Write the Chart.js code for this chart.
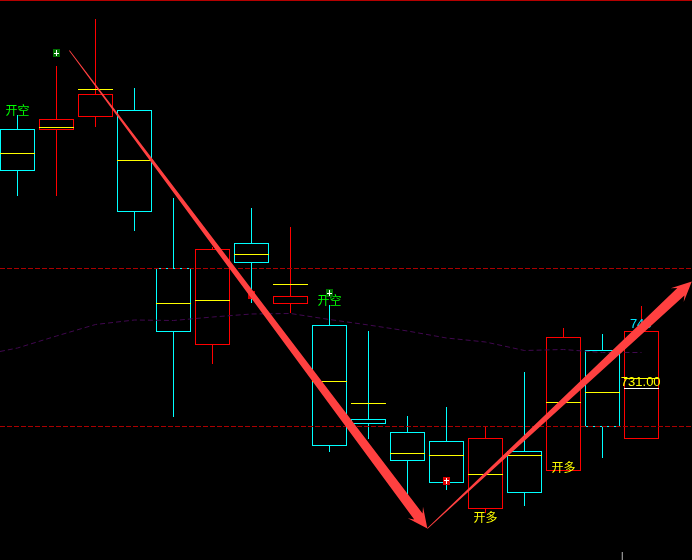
<!DOCTYPE html>
<html>
<head>
<meta charset="utf-8">
<title>K线</title>
<style>
html, body { margin: 0; padding: 0; background: #000; }
canvas { display: block; }
</style>
<script src="https://cdn.jsdelivr.net/npm/chart.js@4"></script>
</head>
<body>
<canvas id="chart" width="692" height="560"></canvas>
<script>
// candles, one entry per bar
const bodyHigh = [782.8, 784.8, 789.8, 786.6, 755.0, 758.8, 760.0, 749.4, 743.6, 724.8, 722.2, 720.4, 721.0, 718.4, 741.2, 738.6, 742.4];
const bodyLow  = [774.4, 782.6, 785.2, 766.2, 742.2, 739.6, 756.0, 747.8, 719.4, 723.8, 716.4, 712.0, 706.8, 710.0, 714.4, 723.2, 720.8];
const wickHigh = [785.6, 795.4, 804.8, 791.0, 769.0, 759.2, 767.0, 763.2, 747.6, 742.4, 725.4, 727.2, 723.4, 734.2, 743.0, 741.8, 747.4];
const wickLow  = [769.4, 769.4, 783.2, 762.4, 725.2, 735.8, 748.0, 746.0, 718.2, 720.8, 709.2, 710.6, 706.0, 707.4, 714.4, 717.0, 720.8];
const midPrice = [777.9, 783.1, 790.7, 776.5, 747.9, 748.5, 757.7, 751.7, 732.3, 727.9, 717.9, 717.5, 713.7, 717.5, 728.1, 730.1, 732.9];
const candleKinds = ["c", "r", "r", "c", "c", "r", "c", "r", "c", "c", "c", "c", "r", "c", "r", "c", "r"];

// slow average, starts just off the first bar
const maX = [-0.45, 0, 1, 2, 3, 4, 5, 6, 7, 8, 9, 10, 11, 12, 13, 14, 15, 16];
const maY = [738.3, 739.0, 741.4, 743.7, 744.6, 744.5, 745.2, 745.8, 745.9, 744.7, 743.6, 742.4, 741.0, 740.2, 738.5, 738.7, 738.1, 738.1];

const levelPrices = [754.9, 723.3];
const topPrice = 808.5;
const lastPrice = 730.9;
const lastIndex = 16;
const cursorX = 15.51;
const cursorY = [698.2, 696.6];

const markerX = [1, 8, 11, 6];
const markerY = [798.0, 750.0, 712.4, 749.6];
const markerKinds = ["down", "down", "up", "up"];

const labelTexts = ["开空", "开空", "开多", "开多", "743", "731.00"];
const labelX = [0, 8, 12, 14, 15.98, 15.98];
const labelY = [786.6, 748.6, 705.2, 715.1, 743.7, 732.2];
const labelColors = ["#00ff00", "#00ff00", "#ffff00", "#ffff00", "#00e5ff", "#ffff00"];

const arrowX = [1.33, 10.51, 17.29];
const arrowY = [798.5, 702.9, 752.3];

const xMin = -17.5 / 39;
const xMax = (692 - 17.5) / 39;
const yMin = 696.6;
const yMax = 808.6;

const CYAN = "#00ffff";
const RED = "#ff0000";
const YELLOW = "#ffff00";
const colors = candleKinds.map((k) => (k === "c" ? CYAN : RED));

function makeMarker(kind) {
    const c = document.createElement("canvas");
    c.width = 7;
    c.height = 8;
    const g = c.getContext("2d");
    g.fillStyle = kind === "up" ? "#dd0000" : "#006e00";
    g.fillRect(0, 0, 7, 8);
    g.fillStyle = "#ffffff";
    g.fillRect(3, 1, 1, 6);
    g.fillRect(1, kind === "up" ? 3 : 4, 5, 1);
    return c;
}

function drawArrow(ctx, x0, y0, x1, y1) {
    const len = Math.hypot(x1 - x0, y1 - y0);
    const dx = (x1 - x0) / len;
    const dy = (y1 - y0) / len;
    const nx = -dy;
    const ny = dx;
    const pt = (along, side) => [x0 + dx * along + nx * side, y0 + dy * along + ny * side];
    const shape = [
        pt(0, 0.4), pt(len - 15, 5.2), pt(len - 20, 9.5), pt(len, 0),
        pt(len - 20, -9.5), pt(len - 15, -5.2), pt(0, -0.4)
    ];
    ctx.beginPath();
    shape.forEach((p, i) => (i ? ctx.lineTo(p[0], p[1]) : ctx.moveTo(p[0], p[1])));
    ctx.closePath();
    ctx.fill();
}

// text goes under the markers, arrows over everything
const overlayPlugin = {
    id: "overlay",
    beforeDatasetDraw(chart, args) {
        if (chart.data.datasets[args.index].label !== "markers") return;
        const ctx = chart.ctx;
        ctx.save();
        ctx.textAlign = "center";
        ctx.textBaseline = "middle";
        labelTexts.forEach((t, i) => {
            ctx.font = /^[0-9.]+$/.test(t) ? '13px "Liberation Sans"' : '12px "Noto Sans CJK SC"';
            ctx.fillStyle = labelColors[i];
            ctx.fillText(t, chart.scales.x.getPixelForValue(labelX[i]), chart.scales.y.getPixelForValue(labelY[i]));
        });
        ctx.restore();
    },
    afterDatasetsDraw(chart) {
        const ctx = chart.ctx;
        const px = arrowX.map((v) => chart.scales.x.getPixelForValue(v));
        const py = arrowY.map((v) => chart.scales.y.getPixelForValue(v));
        ctx.save();
        ctx.fillStyle = "#ff4040";
        drawArrow(ctx, px[0], py[0], px[1], py[1]);
        drawArrow(ctx, px[1], py[1], px[2], py[2]);
        ctx.restore();
    }
};

function hLine(price, color, dash, order) {
    return {
        type: "line",
        label: "level",
        data: [{ x: xMin, y: price }, { x: xMax, y: price }],
        borderColor: color,
        borderWidth: 1,
        borderDash: dash,
        pointRadius: 0,
        order: order
    };
}

const barBase = { grouped: false, borderSkipped: false, inflateAmount: 0 };

const chart = new Chart(document.getElementById("chart"), {
    data: {
        datasets: [
            {
                ...barBase,
                type: "bar",
                label: "wick",
                data: wickHigh.map((h, i) => ({ x: i, y: [wickLow[i], h] })),
                backgroundColor: colors,
                borderWidth: 0,
                barThickness: 1,
                order: 10
            },
            {
                ...barBase,
                type: "bar",
                label: "body",
                data: bodyHigh.map((h, i) => ({ x: i, y: [bodyLow[i], h] })),
                backgroundColor: "#000000",
                borderColor: colors,
                borderWidth: 1,
                barThickness: 35,
                order: 9
            },
            hLine(levelPrices[0], "#aa0000", [5, 2], 8),
            hLine(levelPrices[1], "#aa0000", [5, 2], 8),
            hLine(topPrice, "#b40000", [], 8),
            {
                type: "line",
                label: "ma",
                data: maX.map((x, i) => ({ x: x, y: maY[i] })),
                borderColor: "#40084f",
                borderWidth: 1,
                borderDash: [5, 3],
                pointRadius: 0,
                tension: 0,
                order: 7
            },
            {
                type: "line",
                label: "cursor",
                data: cursorY.map((y) => ({ x: cursorX, y: y })),
                borderColor: "#8c8c8c",
                borderWidth: 1,
                pointRadius: 0,
                order: 7
            },
            {
                type: "scatter",
                label: "mid",
                data: midPrice.map((y, i) => ({ x: i, y: y })),
                pointStyle: "line",
                pointRadius: 17.5,
                pointBorderColor: YELLOW,
                pointBorderWidth: 1,
                order: 6
            },
            {
                type: "scatter",
                label: "last",
                data: [{ x: lastIndex, y: lastPrice }],
                pointStyle: "line",
                pointRadius: 17.5,
                pointBorderColor: "#ffffff",
                pointBorderWidth: 1,
                order: 5
            },
            {
                type: "scatter",
                label: "markers",
                data: markerX.map((x, i) => ({ x: x, y: markerY[i] })),
                pointStyle: markerKinds.map(makeMarker),
                pointRadius: 4,
                order: 1
            }
        ]
    },
    options: {
        responsive: false,
        animation: false,
        devicePixelRatio: 1,
        layout: { padding: 0, autoPadding: false },
        plugins: { legend: { display: false }, tooltip: { enabled: false } },
        scales: {
            x: { type: "linear", display: false, min: xMin, max: xMax, offset: false, grid: { display: false } },
            y: { type: "linear", display: false, min: yMin, max: yMax, beginAtZero: false, grid: { display: false } }
        }
    },
    plugins: [overlayPlugin]
});
</script>
</body>
</html>
